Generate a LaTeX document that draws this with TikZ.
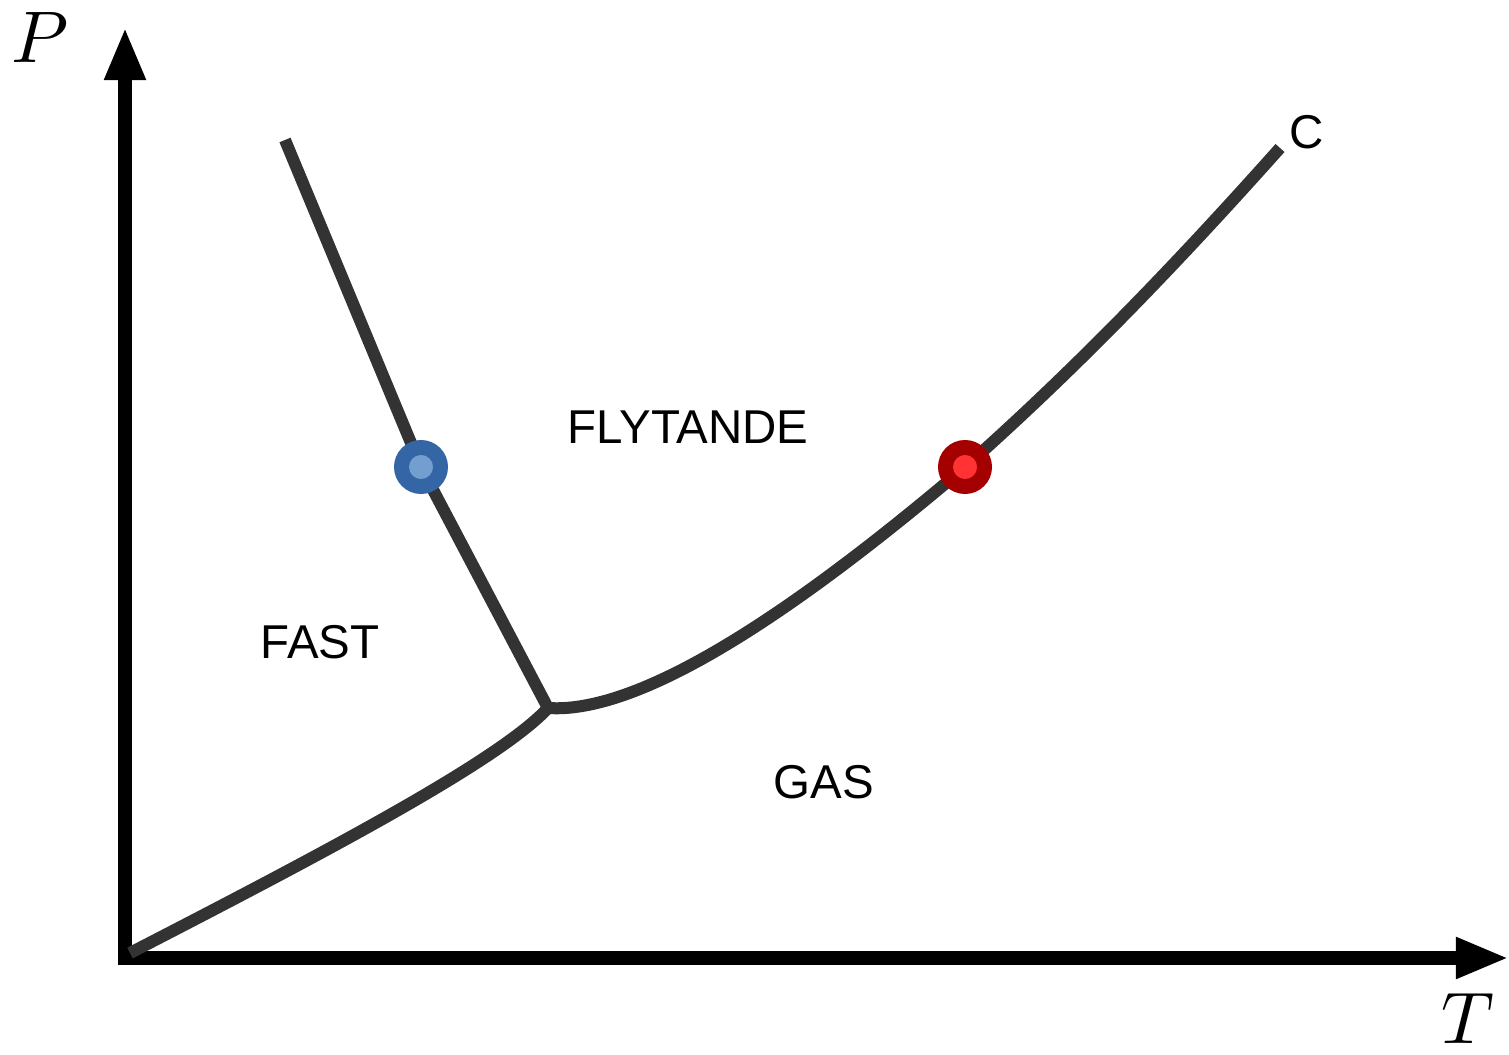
\documentclass[tikz,border=0pt]{standalone}
\usepackage{fontspec}
\newfontfamily\phasefont{Liberation Sans}
\usetikzlibrary{arrows.meta}
\definecolor{curvegray}{RGB}{51, 51, 51}
\definecolor{meltblue}{RGB}{52, 101, 164}
\definecolor{meltlight}{RGB}{114, 159, 207}
\definecolor{boildark}{RGB}{164, 0, 0}
\definecolor{boillight}{RGB}{255, 51, 51}

\tikzset{
    axisline/.style={line width=0.14cm, -{Triangle[length=0.53cm, width=0.38cm]}},
    phaseline/.style={line width=0.12cm, curvegray},
    axislabel/.style={inner sep=0pt, scale=2.08},
    region/.style={font=\phasefont\fontsize{13.5}{16}\selectfont, inner sep=0pt},
    dotouter/.style={circle, inner sep=0pt, minimum size=0.54cm},
    dotinner/.style={circle, inner sep=0pt, minimum size=0.24cm}
}

\begin{document}
\begin{tikzpicture}[x=0.01cm, y=-0.01cm]
        \useasboundingbox (0, 0) rectangle (1509, 1055);
        % axes
        \coordinate (ybase) at (125, 965);
        \coordinate (ytop) at (125, 27);
        \coordinate (xbase) at (118, 958);
        \coordinate (xend) at (1509, 958);
        \draw[axisline] (ybase) -- (ytop);
        \draw[axisline] (xbase) -- (xend);
        \node[axislabel] (plabel) at (40, 38) {$P$};
        \node[axislabel] (tlabel) at (1468, 1019) {$T$};
        % phase boundaries
        \coordinate (subl) at (130, 953);
        \coordinate (triple) at (548, 708);
        \coordinate (melttop) at (285, 140);
        \coordinate (crit) at (1280, 148);
        \coordinate (meltmid) at (421, 467);
        \coordinate (boilmid) at (965, 467);
        \draw[phaseline] (subl) .. controls (330, 850) and (500, 760) .. (triple);
        \draw[phaseline] (melttop) -- (meltmid) -- (triple);
        \draw[phaseline] (triple) .. controls (650, 715) and (820, 590)
            .. (boilmid) .. controls (1080, 365) and (1180, 260) .. (crit);
        % points on the curves
        \node[dotouter, fill=meltblue] (meltpt) at (meltmid) {};
        \node[dotinner, fill=meltlight] at (meltpt) {};
        \node[dotouter, fill=boildark] (boilpt) at (boilmid) {};
        \node[dotinner, fill=boillight] at (boilpt) {};
        % regions
        \node[region] (liquid) at (688, 427) {FLYTANDE};
        \node[region] (solid) at (320, 642) {FAST};
        \node[region] (gas) at (824, 782) {GAS};
        \node[region] (critlabel) at (1307, 132) {C};
    \end{tikzpicture}
\end{document}
